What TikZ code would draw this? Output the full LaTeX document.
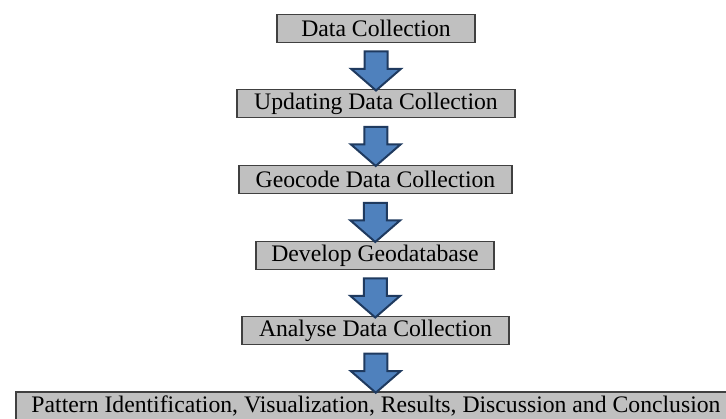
\documentclass[tikz,border=0pt]{standalone}
\usepackage{fontspec}
\setmainfont{Liberation Serif}
\usetikzlibrary{shapes.arrows,calc}
\definecolor{boxfill}{HTML}{C0C0C0}
\definecolor{boxline}{HTML}{404040}
\definecolor{arrfill}{HTML}{4F81BD}
\definecolor{arrline}{HTML}{1F3A5F}
\begin{document}
\begin{tikzpicture}[x=1pt,y=1pt,
  stepbox/.style={draw=boxline, fill=boxfill, line width=1.2pt, minimum height=28pt,
    inner sep=0pt, font=\fontsize{23.7}{26}\selectfont, anchor=center},
  blockarrow/.style={single arrow, draw=arrline, fill=arrfill, line width=2pt,
    rotate=-90, minimum height=39pt, minimum width=48pt, inner xsep=0pt, inner ysep=10.5pt,
    single arrow head extend=13.5pt, single arrow tip angle=98, single arrow head indent=0pt}]
\useasboundingbox (0,0) rectangle (726,419);
\node[stepbox, minimum width=198pt] (b1) at (376,390.5) {Data Collection};
\node[stepbox, minimum width=278pt] (b2) at (376,315.5) {Updating Data Collection};
\node[stepbox, minimum width=273pt] (b3) at (375.5,239.5) {Geocode Data Collection};
\node[stepbox, minimum width=238pt] (b4) at (375,163.5) {Develop Geodatabase};
\node[stepbox, minimum width=267pt] (b5) at (375.5,88.5) {Analyse Data Collection};
\node[stepbox, minimum width=720pt] (b6) at (376,13) {Pattern Identification, Visualization, Results, Discussion and Conclusion};
\node[blockarrow] (a1) at ($(b1.south)!0.5!(b2.north)$) {};
\node[blockarrow] (a2) at ($(b2.south)!0.5!(b3.north)$) {};
\node[blockarrow] (a3) at ($(b3.south)!0.5!(b4.north)$) {};
\node[blockarrow] (a4) at ($(b4.south)!0.5!(b5.north)$) {};
\node[blockarrow] (a5) at ($(b5.south)!0.5!(b6.north)$) {};
\end{tikzpicture}
\end{document}
